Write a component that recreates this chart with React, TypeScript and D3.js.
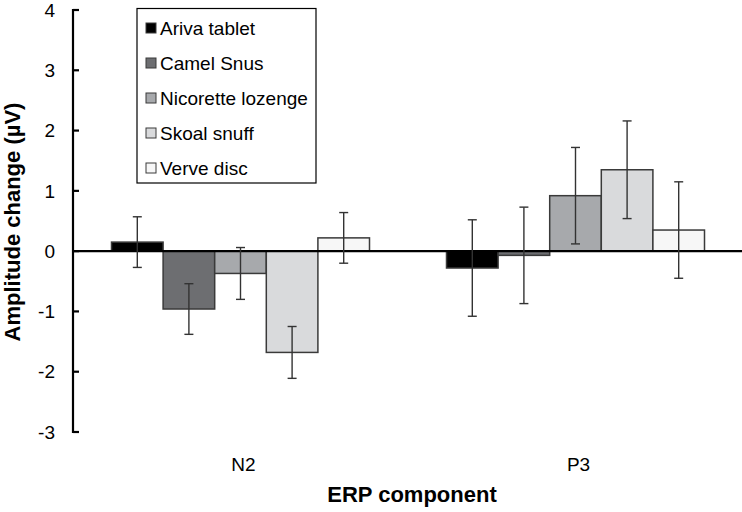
import React from "react";
import * as d3 from "d3";

const components = ["N2", "P3"];
const products = ["Ariva tablet", "Camel Snus", "Nicorette lozenge", "Skoal snuff", "Verve disc"];
const colors = ["#000000", "#6d6e71", "#a7a9ac", "#d9dadc", "#f7f7f7"];
// mean amplitude change per product, per component
const n2Values = [0.15, -0.96, -0.37, -1.68, 0.22];
const p3Values = [-0.28, -0.07, 0.92, 1.35, 0.35];
// error bar half-widths
const n2Errors = [0.42, 0.42, 0.43, 0.43, 0.42];
const p3Errors = [0.8, 0.8, 0.8, 0.81, 0.8];
const yTicks = [-3, -2, -1, 0, 1, 2, 3, 4];

const W = 742;
const H = 512;
const font = "'Liberation Sans', Arial, sans-serif";

export default function App() {
  const left = 73;
  const right = 743;
  const y = d3.scaleLinear().domain([-3, 4]).range([432, 10]);
  const x0 = d3.scaleBand().domain(components).range([left, right]);
  const gw = 258;
  const off = (x0.bandwidth() - gw) / 2;
  const x1 = d3.scaleBand().domain(products).range([off, off + gw]);

  const series = [
    { comp: "N2", vals: n2Values, errs: n2Errors },
    { comp: "P3", vals: p3Values, errs: p3Errors },
  ];

  return (
    <svg width={W} height={H} style={{ position: "absolute", left: 0, top: 0, fontFamily: font }}>
      <rect width={W} height={H} fill="#fff" />
      {series.map((s) =>
        s.vals.map((v, i) => {
          const bx = (x0(s.comp) ?? 0) + (x1(products[i]) ?? 0);
          const top = y(Math.max(v, 0));
          const h = Math.abs(y(v) - y(0));
          return (
            <rect
              key={s.comp + i}
              x={bx}
              y={top}
              width={x1.bandwidth()}
              height={h}
              fill={colors[i]}
              stroke="#3a3a3a"
              strokeWidth={1.5}
            />
          );
        })
      )}
      {/* zero line */}
      <line x1={left} x2={W} y1={y(0)} y2={y(0)} stroke="#000" strokeWidth={2.2} />
      {/* error bars */}
      {series.map((s) =>
        s.vals.map((v, i) => {
          const cx = (x0(s.comp) ?? 0) + (x1(products[i]) ?? 0) + x1.bandwidth() / 2;
          const hi = y(v + s.errs[i]);
          const lo = y(v - s.errs[i]);
          return (
            <g key={"e" + s.comp + i} stroke="#333" strokeWidth={1.4}>
              <line x1={cx} x2={cx} y1={hi} y2={lo} />
              <line x1={cx - 4.5} x2={cx + 4.5} y1={hi} y2={hi} />
              <line x1={cx - 4.5} x2={cx + 4.5} y1={lo} y2={lo} />
            </g>
          );
        })
      )}
      {/* y axis */}
      <line x1={left} x2={left} y1={y(4) - 1} y2={y(-3) + 1} stroke="#000" strokeWidth={2.2} />
      {yTicks.map((t) => (
        <g key={t}>
          <line x1={left} x2={left + 6} y1={y(t)} y2={y(t)} stroke="#000" strokeWidth={2.2} />
          <text x={55} y={y(t)} dy="0.35em" textAnchor="end" fontSize={19} fill="#000">
            {t}
          </text>
        </g>
      ))}
      {/* category labels */}
      {components.map((c) => (
        <text
          key={c}
          x={(x0(c) ?? 0) + x0.bandwidth() / 2 + 3}
          y={471}
          textAnchor="middle"
          fontSize={19}
          fill="#000"
        >
          {c}
        </text>
      ))}
      <text x={412} y={502} textAnchor="middle" fontSize={22} fontWeight="bold" fill="#000">
        ERP component
      </text>
      <text
        transform={`translate(20, ${222}) rotate(-90)`}
        textAnchor="middle"
        fontSize={22}
        fontWeight="bold"
        fill="#000"
      >
        Amplitude change (µV)
      </text>
      {/* legend */}
      <rect x={137} y={8.5} width={179} height={174.5} fill="#fff" stroke="#000" strokeWidth={1.2} />
      {products.map((p, i) => (
        <g key={p} transform={`translate(146, ${28 + i * 35})`}>
          <rect x={0} y={-5} width={10} height={10} fill={colors[i]} stroke="#3a3a3a" strokeWidth={1} />
          <text x={14} y={0} dy="0.35em" fontSize={19} fill="#000">
            {p}
          </text>
        </g>
      ))}
    </svg>
  );
}
